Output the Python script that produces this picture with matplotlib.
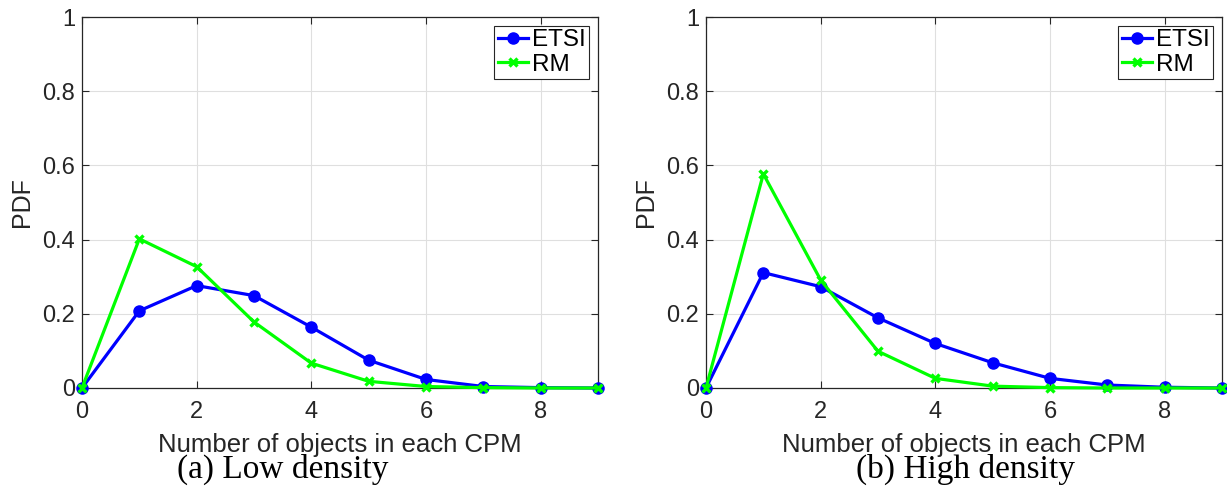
import matplotlib
matplotlib.use("Agg")
import matplotlib.pyplot as plt
from matplotlib.ticker import FuncFormatter

plt.rcParams['font.family'] = ['Liberation Sans', 'DejaVu Sans']

objects = [0, 1, 2, 3, 4, 5, 6, 7, 8, 9]

etsi_low = [0, 0.208, 0.276, 0.249, 0.164, 0.075, 0.023, 0.004, 0.001, 0]
rm_low = [0, 0.402, 0.327, 0.178, 0.067, 0.018, 0.004, 0.001, 0, 0]

etsi_high = [0, 0.311, 0.273, 0.189, 0.120, 0.068, 0.026, 0.008, 0.002, 0]
rm_high = [0, 0.577, 0.291, 0.099, 0.026, 0.005, 0.001, 0, 0, 0]

captions = ["(a) Low density", "(b) High density"]
x_ticks = [0, 2, 4, 6, 8]
y_ticks = [0, 0.2, 0.4, 0.6, 0.8, 1]

W, H = 1227, 496
fig = plt.figure(figsize=(W / 100, H / 100), dpi=100)

axes_px = [(82, 598), (706, 1222)]
top_px, bottom_px = 17, 388
caption_cx = [283, 965]
axes_h = bottom_px - top_px


def fmt(v, pos):
    if abs(v) < 1e-9:
        return "0"
    if abs(v - 1) < 1e-9:
        return "1"
    return f"{v:.1f}"


for i, (etsi, rm) in enumerate([(etsi_low, rm_low), (etsi_high, rm_high)]):
    l, r = axes_px[i]
    axes_w = r - l
    ax = fig.add_axes([l / W, 1 - bottom_px / H, axes_w / W, axes_h / H])
    ax.plot(objects, etsi, color='#0000FF', lw=2.3, marker='o', ms=8,
            label='ETSI', clip_on=False, zorder=3)
    ax.plot(objects, rm, color='#00FF00', lw=2.3, marker='x', ms=6, mew=2.4,
            label='RM', clip_on=False, zorder=4)
    ax.set_xlim(0, 9)
    ax.set_ylim(0, 1)
    ax.set_xticks(x_ticks)
    ax.set_yticks(y_ticks)
    ax.yaxis.set_major_formatter(FuncFormatter(fmt))
    ax.grid(True, color='#DFDFDF', lw=0.8)
    ax.set_axisbelow(True)
    ax.tick_params(direction='in', length=5, width=0.8, top=True, right=True,
                   labelsize=17, colors='#262626')
    ax.tick_params(axis='x', pad=9)
    ax.tick_params(axis='y', pad=5)
    for s in ax.spines.values():
        s.set_color('#262626')
        s.set_linewidth(0.9)
    ax.set_xlabel('Number of objects in each CPM', fontsize=18.5, color='#262626')
    ax.xaxis.set_label_coords(0.5, -(433 - bottom_px) / axes_h)
    ax.set_ylabel('PDF', fontsize=18, color='#262626')
    ax.yaxis.set_label_coords(-48 / axes_w, 0.5)
    leg = ax.legend(loc='upper right', fontsize=17.5, handlelength=1.25,
                    handletextpad=0.15, borderpad=0.15, labelspacing=0.1,
                    fancybox=False, framealpha=1, edgecolor='#262626',
                    borderaxespad=0.35)
    leg.get_frame().set_linewidth(0.8)
    fig.text(caption_cx[i] / W, 1 - 478 / H, captions[i], ha='center', va='baseline',
             fontsize=24, family='Liberation Serif', color='black')

fig.savefig('out.png', dpi=100)
